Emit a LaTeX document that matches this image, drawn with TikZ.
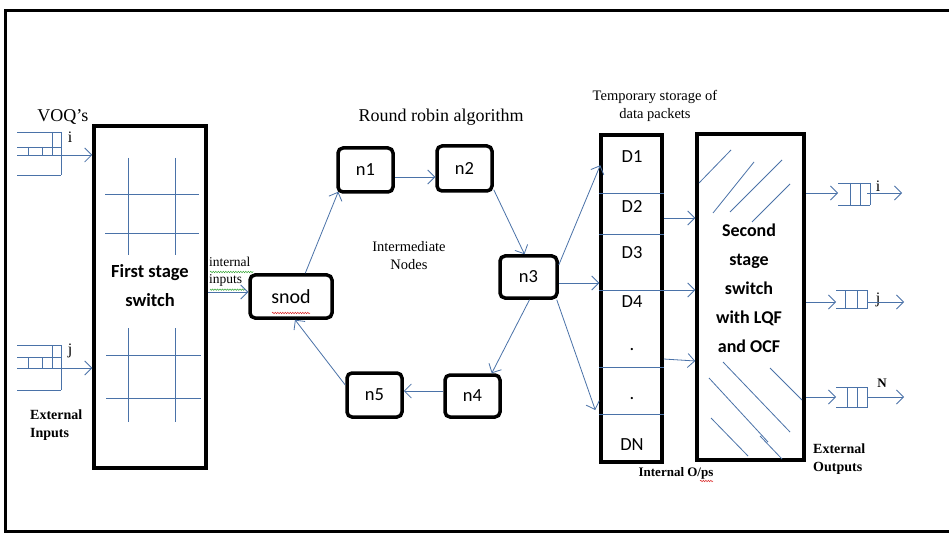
\documentclass[tikz,border=0pt]{standalone}
\usepackage{fontspec}
\setmainfont{Liberation Serif}
\newfontfamily\calib{Carlito}
\usetikzlibrary{arrows.meta,decorations.pathmorphing}
\definecolor{ln}{RGB}{74,114,168}
\definecolor{wavyred}{RGB}{220,40,40}
\definecolor{wavygreen}{RGB}{60,170,60}
\tikzset{
  rnode/.style={draw=black, line width=3.5pt, rounded corners=5pt, inner sep=0pt, font=\calib\fontsize{18.5}{20}\selectfont},
  dlab/.style={inner sep=0pt, font=\calib\fontsize{18.5}{20}\selectfont},
  bigbox/.style={draw=black, line width=3.5pt, inner sep=0pt},
  thinln/.style={draw=ln, line width=0.8pt},
  arr/.style={ln, line width=0.8pt, -{Straight Barb[length=7pt,width=14pt,line width=0.8pt]}},
  serif/.style={inner sep=0pt, font=\fontsize{#1}{#1}\selectfont},
  bserif/.style={inner sep=0pt, align=left, font=\bfseries\fontsize{14}{18}\selectfont},
  wavy/.style={line width=0.5pt, decorate, decoration={snake, amplitude=0.7pt, segment length=2.5pt}},
}
\begin{document}
\begin{tikzpicture}[x=1pt,y=-1pt]
\useasboundingbox (0,0) rectangle (949,534);
\fill[white] (0,0) rectangle (949,534);
% outer frame
\draw[line width=3pt] (949,11) -- (5,11) -- (5,531) -- (949,531);

% main boxes
\node[bigbox, minimum width=112pt, minimum height=342pt] (fs) at (150,297) {};
\node[bigbox, minimum width=61pt, minimum height=327pt] (dcol) at (631.5,298.5) {};
\node[bigbox, minimum width=107pt, minimum height=326pt] (ss) at (750.5,297) {};

% grid lines inside first stage switch
\draw[thinln] (128,158) -- (128,255) (175,158) -- (175,255)
              (105,194) -- (199,194) (105,233) -- (199,233);
\draw[thinln] (128,328) -- (128,422) (175,328) -- (175,422)
              (106,355) -- (201,355) (106,398) -- (201,398);
\node[inner sep=0pt, align=center, font=\calib\bfseries\fontsize{18.5}{29}\selectfont] (fstxt) at (150,286) {First stage\\switch};

% input queues
\draw[thinln] (17,132) -- (61,132) (17,147) -- (61,147) (17,175) -- (61,175)
              (61,132) -- (61,175) (52,132) -- (52,155) (28,147) -- (28,155) (42,147) -- (42,155);
\coordinate (qi) at (17,155);
\draw[arr] (qi) -- (fs.west |- qi);
\draw[thinln] (17,345) -- (61,345) (17,357) -- (61,357) (17,390) -- (61,390)
              (61,345) -- (61,390) (52,345) -- (52,368) (28,357) -- (28,368) (42,357) -- (42,368);
\coordinate (qj) at (17,368);
\draw[arr] (qj) -- (fs.west |- qj);
\node[serif=18] (voq) at (63,117) {VOQ’s};
\node[serif=16] (li) at (70,137) {i};
\node[serif=16] (lj) at (70,351) {j};
\node[bserif, anchor=north west] (extin) at (30,410) {External\\Inputs};

% round robin nodes
\node[rnode, minimum width=82pt, minimum height=43pt, font=\calib\fontsize{20}{22}\selectfont] (snod) at (291,296.5) {snod};
\node[rnode, minimum width=55pt, minimum height=44pt] (n1) at (365.5,170) {n1};
\node[rnode, minimum width=55pt, minimum height=45pt] (n2) at (464.5,168.5) {n2};
\node[rnode, minimum width=57pt, minimum height=42pt] (n3) at (528.5,277) {n3};
\node[rnode, minimum width=55pt, minimum height=42pt] (n4) at (472.5,396) {n4};
\node[rnode, minimum width=55pt, minimum height=44pt] (n5) at (374.5,395) {n5};
\draw[wavy, wavyred] (272,313) -- (310,313);

\node[serif=18] (rr) at (441,117) {Round robin algorithm};
\node[inner sep=0pt, align=center, font=\fontsize{14.5}{18}\selectfont] (inter) at (409,256) {Intermediate\\Nodes};
\node[inner sep=0pt, align=left, anchor=north west, font=\fontsize{13.5}{17}\selectfont] (intin) at (209,257) {internal\\inputs};
\draw[wavy, wavygreen] (210,272) -- (253,272) (210,289) -- (245,289);

\coordinate (a0) at ([yshift=4.5pt]snod.west);
\draw[arr] (fs.east |- a0) -- (a0);
\draw[arr] ([xshift=57pt]snod.north west) -- ([xshift=2pt,yshift=2pt]n1.south west);
\draw[arr] ([yshift=-7pt]n1.east) -- ([yshift=-8.5pt]n2.west);
\draw[arr] ([yshift=3pt]n2.south east) -- ([xshift=-4pt]n3.north);
\draw[arr] ([xshift=1pt]n3.south) -- ([xshift=-10pt]n4.north east);
\draw[arr] ([yshift=5pt]n4.west) -- ([yshift=4pt]n5.east);
\draw[arr] ([yshift=10pt]n5.west) -- ([xshift=4pt]snod.south);

% n3 to storage column
\draw[arr] ([yshift=12pt]n3.east) -- ([yshift=-32pt,xshift=1pt]dcol.north west);
\coordinate (b0) at ([yshift=-6pt]n3.east);
\draw[arr] (b0) -- (dcol.west |- b0);
\draw[arr] ([xshift=-2pt]n3.south east) -- ([yshift=-111.5pt,xshift=-4pt]dcol.west);

% storage column
\foreach \yy in {193,234,290,367,414}{
  \draw[thinln] (dcol.west |- 0,\yy) -- (dcol.east |- 0,\yy);
}
\node[dlab] (d1) at (632,157) {D1};
\node[dlab] (d2) at (632,206) {D2};
\node[dlab] (d3) at (632,253) {D3};
\node[dlab] (d4) at (632,302) {D4};
\node[dlab] (d5) at (632,350) {.};
\node[dlab] (d6) at (632,399) {.};
\node[dlab] (dn) at (632,445) {DN};
\node[inner sep=0pt, align=center, font=\fontsize{14.5}{18}\selectfont] (temp) at (655,106) {Temporary storage of\\data packets};
\node[inner sep=0pt, font=\bfseries\fontsize{13}{14}\selectfont] (intop) at (676,473) {Internal O/ps};
\draw[wavy, wavyred] (700,481) -- (713,481);

% storage to second stage
\draw[arr] (dcol.east |- 0,218) -- (ss.west |- 0,218);
\draw[arr] (dcol.west |- 0,290) -- (ss.west |- 0,290);
\draw[arr] (dcol.east |- 0,359) -- (ss.west |- 0,361);

% second stage
\draw[thinln] (699,183) -- (731,150) (713,213) -- (754,162) (730,212) -- (782,160) (752,222) -- (790,184);
\draw[thinln] (723,362) -- (790,432) (709,378) -- (768,442) (770,368) -- (802,400) (711,418) -- (748,456) (760,436) -- (782,459);
\node[inner sep=1pt, align=center, fill=white, font=\calib\bfseries\fontsize{18}{29}\selectfont] (sstxt) at (749,288) {Second\\stage\\switch\\with LQF\\and OCF};

% output queues
\coordinate (oi) at (838,193);
\draw[arr] (ss.east |- oi) -- (oi);
\draw[thinln] (838,183) -- (870,183) (838,205) -- (870,205) (850,183) -- (850,205) (860,183) -- (860,205) (870,183) -- (870,205);
\draw[arr] (867,193) -- (902,193);
\node[serif=16] (ti) at (878,186) {i};

\coordinate (oj) at (836,302);
\draw[arr] (ss.east |- oj) -- (oj);
\draw[thinln] (836,290) -- (868,290) (836,308) -- (868,308) (845,290) -- (845,308) (857,290) -- (857,308) (867,290) -- (867,308);
\node[serif=16] (tj) at (878,300) {j};
\draw[arr] (867,302) -- (904,302);

\coordinate (on) at (836,397);
\draw[arr] (ss.east |- on) -- (on);
\draw[thinln] (836,387) -- (868,387) (836,407) -- (868,407) (847,387) -- (847,407) (857,387) -- (857,407) (867,387) -- (867,407);
\node[inner sep=0pt, font=\bfseries\fontsize{13}{14}\selectfont] (tn) at (882,383) {N};
\draw[arr] (867,397) -- (904,397);

\node[bserif, anchor=north west] (extout) at (813,444) {External\\Outputs};
\end{tikzpicture}
\end{document}
